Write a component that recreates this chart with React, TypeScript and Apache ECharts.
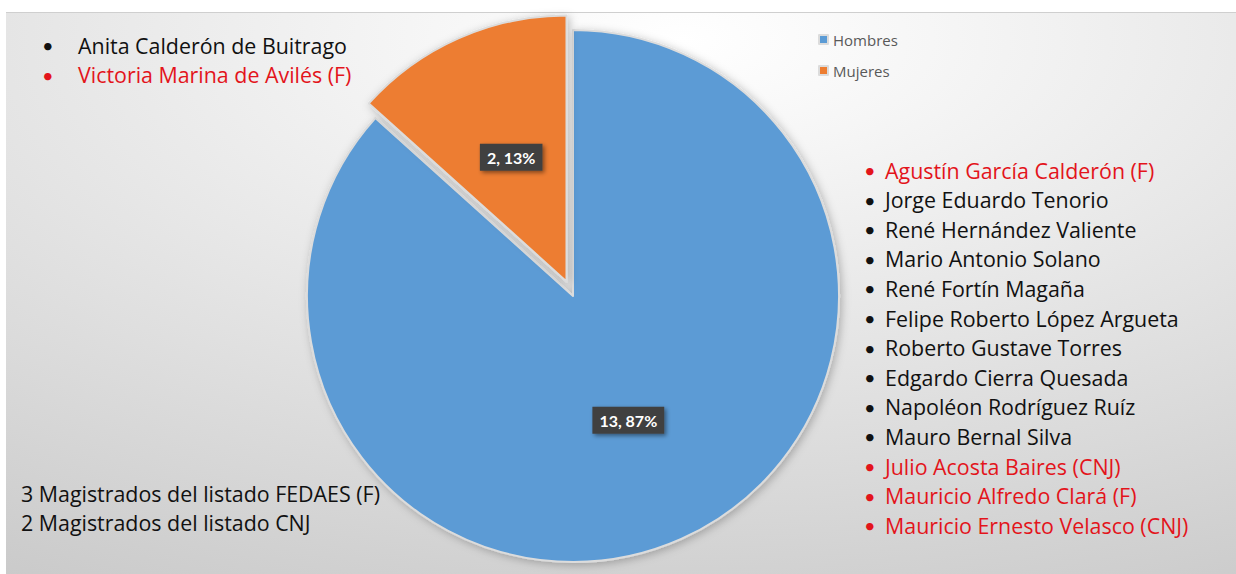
import React, { useEffect, useRef } from "react";
import * as echarts from "echarts";

const categories = ["Hombres", "Mujeres"];
const values = [13, 2];
const sliceColors = ["#5B9BD5", "#ED7D31"];

const topLeftNames = ["Anita Calderón de Buitrago", "Victoria Marina de Avilés (F)"];
const topLeftRed = [false, true];

const rightNames = [
  "Agustín García Calderón (F)",
  "Jorge Eduardo Tenorio",
  "René Hernández Valiente",
  "Mario Antonio Solano",
  "René Fortín Magaña",
  "Felipe Roberto López Argueta",
  "Roberto Gustave Torres",
  "Edgardo Cierra Quesada",
  "Napoléon Rodríguez Ruíz",
  "Mauro Bernal Silva",
  "Julio Acosta Baires (CNJ)",
  "Mauricio Alfredo Clará (F)",
  "Mauricio Ernesto Velasco (CNJ)",
];
const rightRed = [true, false, false, false, false, false, false, false, false, false, true, true, true];

const bottomNotes = ["3 Magistrados del listado FEDAES (F)", "2 Magistrados del listado CNJ"];

const RED = "#E3141B";
const BLACK = "#111111";
const FONT = "'Open Sans', 'Noto Sans', sans-serif";
const LABEL_FONT = "Lato, 'Open Sans', sans-serif";

export default function App() {
  const ref = useRef<HTMLDivElement>(null);
  useEffect(() => {
    if (!ref.current) return;
    const chart = echarts.init(ref.current, null, { renderer: "svg" });
    const texts: any[] = [];
    const addLine = (x: number, y: number, text: string, color: string, bullet: number | null) => {
      if (bullet !== null) {
        texts.push({
          type: "text",
          x: bullet,
          y,
          style: { text: "•", fill: color, font: `20px Lato, sans-serif`, textVerticalAlign: "middle" },
        });
      }
      texts.push({
        type: "text",
        x,
        y,
        style: { text, fill: color, font: `21.4px ${FONT}`, textVerticalAlign: "middle" },
      });
    };
    topLeftNames.forEach((n, i) => addLine(78, 45 + i * 29.5, n, topLeftRed[i] ? RED : BLACK, 42));
    rightNames.forEach((n, i) => addLine(885, 170 + i * 29.6, n, rightRed[i] ? RED : BLACK, 864));
    bottomNotes.forEach((n, i) => addLine(21, 493 + i * 29.5, n, BLACK, null));

    chart.setOption({
      animation: false,
      graphic: [
        {
          type: "rect",
          silent: true,
          z: -10,
          shape: { x: 6, y: 12, width: 1230, height: 562 },
          style: {
            fill: {
              type: "radial",
              x: 0.55,
              y: 0.05,
              r: 1.35,
              colorStops: [
                { offset: 0, color: "#ffffff" },
                { offset: 0.15, color: "#f6f6f6" },
                { offset: 1, color: "#bebebe" },
              ],
            },
          },
        },
        {
          type: "line",
          silent: true,
          shape: { x1: 6, y1: 12.5, x2: 1236, y2: 12.5 },
          style: { stroke: "#cfcfcf", lineWidth: 1 },
        },
        ...texts,
      ],
      legend: {
        orient: "vertical",
        left: 813,
        top: 27,
        itemWidth: 9,
        itemHeight: 9,
        itemGap: 16,
        icon: "rect",
        textStyle: { color: "#595959", fontSize: 15, fontFamily: FONT, padding: [0, 0, 0, 0] },
        data: categories,
      },
      series: [
        {
          type: "pie",
          center: [573, 296],
          radius: 266,
          startAngle: 90,
          clockwise: true,
          selectedMode: "single",
          selectedOffset: 16,
          emphasis: { disabled: true },
          itemStyle: {
            borderColor: "#dcdcdc",
            borderWidth: 2,
            shadowBlur: 8,
            shadowColor: "rgba(0,0,0,0.25)",
            shadowOffsetX: 2,
            shadowOffsetY: 2,
          },
          label: {
            show: true,
            position: "inside",
            formatter: (p: any) => `${p.value}, ${Math.round(p.percent)}%`,
            color: "#ffffff",
            fontWeight: "bold",
            fontSize: 16,
            fontFamily: LABEL_FONT,
            backgroundColor: "#404040",
            padding: [6, 7, 5, 7],
            shadowBlur: 4,
            shadowColor: "rgba(0,0,0,0.45)",
            shadowOffsetX: 2,
            shadowOffsetY: 2,
          },
          labelLine: { show: false },
          data: categories.map((c, i) => ({
            name: c,
            value: values[i],
            selected: i === 1,
            itemStyle: { color: sliceColors[i] },
          })),
        },
      ],
    });
    return () => chart.dispose();
  }, []);
  return (
    <div
      ref={ref}
      style={{ position: "absolute", left: 0, top: 0, width: 1236, height: 574, background: "#ffffff" }}
    />
  );
}
